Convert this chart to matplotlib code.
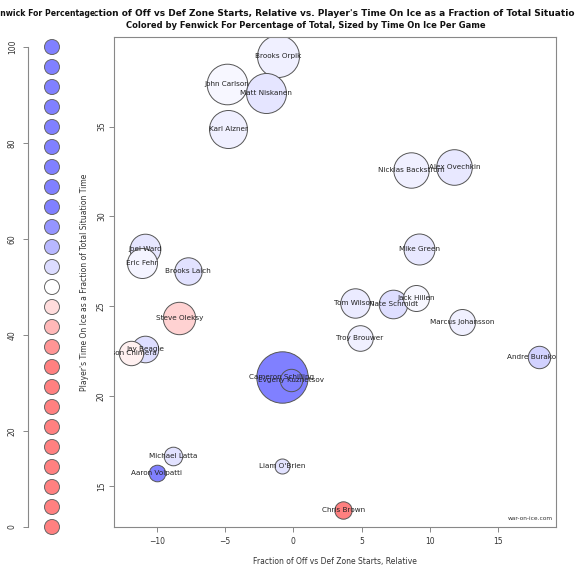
import numpy as np
import matplotlib
matplotlib.use("Agg")
import matplotlib.pyplot as plt
from matplotlib.patches import Rectangle
from matplotlib.transforms import Bbox

# players
players = [
    "Brooks Orpik", "John Carlson", "Matt Niskanen", "Karl Alzner",
    "Joel Ward", "Eric Fehr", "Brooks Laich", "Nicklas Backstrom",
    "Alex Ovechkin", "Mike Green", "Tom Wilson", "Nate Schmidt",
    "Jack Hillen", "Marcus Johansson", "Troy Brouwer", "Andre Burakovsky",
    "Steve Oleksy", "Jay Beagle", "Jason Chimera", "Cameron Schilling",
    "Evgeny Kuznetsov", "Michael Latta", "Aaron Volpatti", "Liam O'Brien",
    "Chris Brown",
]
zone_start_rel = [-1.10, -4.87, -1.98, -4.75, -10.85, -11.09, -7.72, 8.61,
                  11.78, 9.22, 4.49, 7.32, 9.00, 12.34, 4.86, 18.00,
                  -8.34, -10.85, -11.89, -0.85, -0.17, -8.78, -9.99, -0.80,
                  3.64]
toi_frac = [38.95, 37.38, 36.89, 34.86, 28.17, 27.40, 26.99, 32.59,
            32.77, 28.19, 25.19, 25.13, 25.45, 24.15, 23.22, 22.20,
            24.34, 22.61, 22.42, 21.05, 20.92, 16.69, 15.75, 16.14,
            13.67]
toi_per_game = [21.0, 20.3, 20.0, 19.0, 15.3, 15.0, 13.7, 17.7,
                17.8, 15.5, 14.7, 14.3, 13.0, 13.0, 12.8, 11.2,
                16.2, 13.3, 12.2, 25.7, 11.2, 9.3, 8.3, 7.5,
                8.7]
fenwick_pct = [51.8, 50.9, 53.1, 51.8, 52.9, 51.3, 53.4, 51.8,
               52.7, 52.7, 52.3, 53.9, 50.9, 51.8, 51.8, 55.3,
               44.7, 53.9, 48.2, 70.0, 66.0, 53.4, 68.0, 53.4,
               33.0]

legend_vals = np.linspace(0, 100, 25)
legend_ticks = [0, 20, 40, 60, 80, 100]

DPI = 100
PX_PER_MIN = 1.0   # circle radius in pixels per minute of TOI


def fenwick_colour(v):
    t = min(1.0, abs(v - 50) / 15.0)
    c = 1 - 0.5 * t
    if v >= 50:
        return (c, c, 1.0)
    return (1.0, c, c)


def area(radius_px):
    return (2 * radius_px * 72 / DPI) ** 2


txt = "#333333"
frame = "#888888"

fig = plt.figure(figsize=(5.75, 5.75), dpi=DPI)

# main panel
ax = fig.add_axes([114.3 / 575, 48 / 575, 441.4 / 575, 489.7 / 575])
sizes = [area(t * PX_PER_MIN) for t in toi_per_game]
cols = [fenwick_colour(v) for v in fenwick_pct]
for i in range(len(players)):
    ax.scatter(zone_start_rel[i], toi_frac[i], s=sizes[i], color=cols[i],
               edgecolor="#555555", linewidth=0.7, zorder=2)
for i, name in enumerate(players):
    ax.text(zone_start_rel[i], toi_frac[i], name, ha="center", va="center",
            fontsize=5.2, color="#222222", zorder=3, clip_on=True)

ax.set_xlim(-13.1, 19.2)
ax.set_ylim(12.72, 39.97)
ax.set_xticks([-10, -5, 0, 5, 10, 15])
ax.set_yticks([15, 20, 25, 30, 35])
for sp in ax.spines.values():
    sp.set_color(frame)
    sp.set_linewidth(0.8)
ax.tick_params(colors=frame, labelcolor=txt, labelsize=5.5, length=3.5,
               width=0.7, pad=3.5)
ax.tick_params(axis="y", pad=2.5)
plt.setp(ax.get_yticklabels(), rotation=90, va="center")
ax.set_xlabel("Fraction of Off vs Def Zone Starts, Relative", fontsize=5.5,
              color=txt, labelpad=8)
ax.set_ylabel("Player's Time On Ice as a Fraction of Total Situation Time",
              fontsize=5.5, color=txt, labelpad=6)
ax.text(0.993, 0.012, "war-on-ice.com", transform=ax.transAxes, ha="right",
        va="bottom", fontsize=4.2, color=txt)

# titles
fig.text(343 / 575, 1 - 14 / 575,
         "Fraction of Off vs Def Zone Starts, Relative vs. Player's Time On Ice as a Fraction of Total Situation Time",
         ha="center", va="center", fontsize=6.5, fontweight="bold", color="#111111")
fig.text(306 / 575, 1 - 25 / 575,
         "Colored by Fenwick For Percentage of Total, Sized by Time On Ice Per Game",
         ha="center", va="center", fontsize=6.0, fontweight="bold", color="#111111")

# colour legend panel
lax = fig.add_axes([28 / 575, 48 / 575, 48 / 575, 480 / 575])
lax.scatter(np.full(len(legend_vals), 0.5), legend_vals, s=area(7.5),
            color=[fenwick_colour(v) for v in legend_vals],
            edgecolor="#666666", linewidth=0.7, clip_on=False)
lax.set_xlim(0, 1)
lax.set_ylim(0, 100)
lax.set_xticks([])
lax.set_yticks(legend_ticks)
for side in ["top", "right", "bottom"]:
    lax.spines[side].set_visible(False)
lax.spines["left"].set_color(frame)
lax.spines["left"].set_linewidth(0.8)
lax.patch.set_alpha(0)
lax.tick_params(colors=frame, labelcolor=txt, labelsize=5.5, length=3.5,
                width=0.7, pad=4.5)
plt.setp(lax.get_yticklabels(), rotation=90, va="center")

# legend title covers the start of the main title
fig.patches.append(Rectangle((0, 1 - 20 / 575), 95 / 575, 12 / 575,
                             transform=fig.transFigure, facecolor="white",
                             edgecolor="none", zorder=5))
lt = fig.text(43 / 575, 1 - 14 / 575, "Fenwick For Percentage", ha="center",
              va="center", fontsize=5.6, fontweight="bold", color="#111111",
              zorder=6)
lt.set_clip_box(Bbox([[0, 0], [95, 575]]))
lt.set_clip_on(True)

fig.savefig("out.png", dpi=DPI)
